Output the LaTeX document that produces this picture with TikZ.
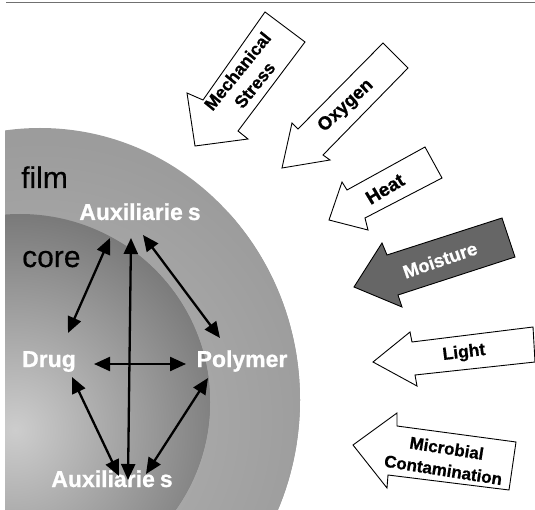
\documentclass[tikz,border=0pt]{standalone}
\usepackage{fontspec}
\setmainfont{Liberation Sans}[BoldFeatures={FakeBold=0.8}]
\newfontfamily\medfont{Liberation Sans}[FakeBold=0.4]
\usetikzlibrary{arrows.meta}
\definecolor{filmin}{HTML}{B6B6B6}
\definecolor{filmout}{HTML}{9C9C9C}
\definecolor{corein}{HTML}{CDCDCD}
\definecolor{coreout}{HTML}{7A7A7A}
\definecolor{moist}{HTML}{666666}
\definecolor{rule}{HTML}{707070}
\begin{document}
\begin{tikzpicture}[x=1pt,y=-1pt,
  blockarrow/.style={draw=black, line width=0.9pt, fill=white, line join=miter},
  darkblock/.style={blockarrow, fill=moist},
  dbl/.style={line width=2.3pt, {Triangle[length=16pt,width=14pt]}-{Triangle[length=16pt,width=14pt]}},
  lbl/.style={text=white, font=\fontsize{23}{25}\selectfont\bfseries, inner sep=0pt, anchor=base},
  reg/.style={text=black, font=\fontsize{30}{32}\selectfont\medfont, inner sep=0pt, anchor=base west},
  btxt/.style={font=\fontsize{#1}{22}\selectfont\bfseries, inner sep=0pt, align=center},
]
\useasboundingbox (0,0) rectangle (535,510);
% top rule
\coordinate (r1) at (6,3);
\coordinate (r2) at (535,3);
\draw[rule, line width=1pt] (r1) -- (r2);

% film and core discs
\begin{scope}
  \clip (5,0) rectangle (535,510);
  \begin{scope}
    \clip (40,400) ellipse [x radius=260pt, y radius=272pt];
    \fill[filmout] (0,0) rectangle (535,510);
    \shade[inner color=filmin, outer color=filmout] (40,420) circle (280pt);
  \end{scope}
  \begin{scope}
    \clip (20,402) ellipse [x radius=190pt, y radius=188pt];
    \fill[coreout] (0,0) rectangle (535,510);
    \shade[inner color=corein, outer color=coreout] (15,430) circle (215pt);
  \end{scope}
\end{scope}

% labels
\node[reg] (film) at (21,188) {film};
\node[reg] (core) at (22,267) {core};
\node[lbl] (auxtop) at (140,220) {Auxiliarie\kern5pt s};
\node[lbl] (auxbot) at (112,487) {Auxiliarie\kern5pt s};
\node[lbl] (drug) at (49,367) {Drug};
\node[lbl] (poly) at (242,367) {Polymer};

% interaction arrows
\coordinate (a1) at (110,238); \coordinate (b1) at (68,333);
\coordinate (a2) at (131,238); \coordinate (b2) at (128,480);
\coordinate (a3) at (143,235); \coordinate (b3) at (220,338);
\coordinate (a4) at (94,364);  \coordinate (b4) at (186,364);
\coordinate (a5) at (72,377);  \coordinate (b5) at (119,476);
\coordinate (a6) at (208,378); \coordinate (b6) at (146,474);
\draw[dbl] (a1) -- (b1);
\draw[dbl] (a2) -- (b2);
\draw[dbl] (a3) -- (b3);
\draw[dbl] (a4) -- (b4);
\draw[dbl] (a5) -- (b5);
\draw[dbl] (a6) -- (b6);

% block arrows
\draw[blockarrow] (265,12) -- (305,42) -- (238,131) -- (248,139) -- (195,146) -- (187,93) -- (203,100) -- cycle;
\draw[blockarrow] (383,43) -- (408,68) -- (323,155) -- (330,160) -- (282,168) -- (292,123) -- (298,129) -- cycle;
\draw[blockarrow] (425,147) -- (442,178) -- (365,218) -- (368,230) -- (329,220) -- (342,182) -- (347,190) -- cycle;
\draw[darkblock] (502,218) -- (515,257) -- (398,295) -- (402,307) -- (354,287) -- (382,243) -- (387,255) -- cycle;
\draw[blockarrow] (533,327) -- (535,362) -- (415,375) -- (417,386) -- (373,362) -- (410,332) -- (412,342) -- cycle;
\draw[blockarrow] (516,442) -- (509,490) -- (388,475) -- (387,488) -- (353,445) -- (397,413) -- (397,426) -- cycle;

\node[btxt=17.5, rotate=51] (mech) at (246,78) {Mechanical\\Stress};
\node[btxt=18.5, rotate=43] (oxy) at (346,106) {Oxygen};
\node[btxt=19, rotate=31] (heat) at (385,189) {Heat};
\node[btxt=18.5, text=white, rotate=19] (moisture) at (440,260) {Moisture};
\node[btxt=17.5, rotate=7] (light) at (464,353) {Light};
\node[btxt=17, rotate=-9] (micro) at (445,459) {Microbial\\Contamination};
\end{tikzpicture}
\end{document}
